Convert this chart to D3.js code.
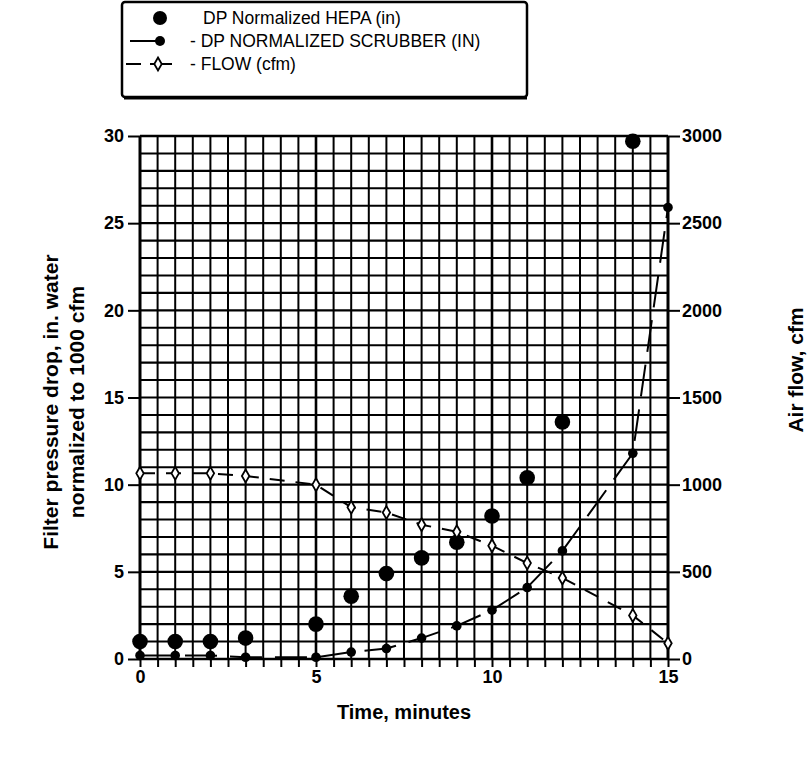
<!DOCTYPE html>
<html>
<head>
<meta charset="utf-8">
<script src="https://cdn.jsdelivr.net/npm/d3@7"></script>
<style>
  body { margin: 0; background: #fff; }
  svg { display: block; font-family: "Liberation Sans", Arial, Helvetica, sans-serif; }
</style>
</head>
<body>
<svg id="chart" width="810" height="759"></svg>
<script>
// Time, minutes
const hepaTime  = [0, 1, 2, 3, 5, 6, 7, 8, 9, 10, 11, 12, 14];
// Normalized HEPA pressure drop, in. water
const hepaDP    = [1.0, 1.0, 1.0, 1.2, 2.0, 3.6, 4.9, 5.8, 6.7, 8.2, 10.4, 13.6, 29.7];

const scrubTime = [0, 1, 2, 3, 5, 6, 7, 8, 9, 10, 11, 12, 14, 15];
// Normalized scrubber pressure drop, in. water
const scrubDP   = [0.2, 0.2, 0.2, 0.1, 0.1, 0.4, 0.6, 1.2, 1.9, 2.8, 4.1, 6.2, 11.8, 25.9];

const flowTime  = [0, 1, 2, 3, 5, 6, 7, 8, 9, 10, 11, 12, 14, 15];
// Air flow, cfm
const flowCfm   = [1065, 1065, 1065, 1050, 1000, 870, 840, 770, 730, 650, 550, 465, 250, 90];

const leftTicks   = [0, 5, 10, 15, 20, 25, 30];
const rightTicks  = [0, 500, 1000, 1500, 2000, 2500, 3000];
const bottomTicks = [0, 5, 10, 15];

const legendLabels = ["DP Normalized HEPA (in)", "- DP NORMALIZED SCRUBBER (IN)", "- FLOW (cfm)"];

const svg = d3.select("#chart");

const x  = d3.scaleLinear().domain([0, 15]).range([140, 668]);
const yL = d3.scaleLinear().domain([0, 30]).range([659, 136]);
const yR = d3.scaleLinear().domain([0, 3000]).range([659, 136]);

// ---- grid: one line per unit of pressure drop, one per half minute ----
const grid = svg.append("g").attr("stroke", "#000");
grid.selectAll("line.h").data(d3.range(0, 31, 1)).join("line")
  .attr("class", "h")
  .attr("x1", x(0)).attr("x2", x(15))
  .attr("y1", d => yL(d)).attr("y2", d => yL(d))
  .attr("stroke-width", d => d === 0 || d === 30 ? 2.6 : 2.1);
grid.selectAll("line.v").data(d3.range(0, 15.01, 0.5)).join("line")
  .attr("class", "v")
  .attr("x1", d => x(d)).attr("x2", d => x(d))
  .attr("y1", yL(0)).attr("y2", yL(30))
  .attr("stroke-width", d => (d === 0 || d === 15) ? 3 : (d % 5 === 0 ? 2.6 : 2));

// ---- axes ----
function styleAxis(g) {
  g.select(".domain").remove();
  g.selectAll(".tick line").attr("stroke", "#000").attr("stroke-width", 2);
  g.selectAll(".tick text")
    .attr("fill", "#000")
    .style("font-family", "'Liberation Sans', Arial, sans-serif")
    .style("font-weight", "bold")
    .style("font-size", "18px");
}

svg.append("g")
  .attr("transform", `translate(${x(0)},0)`)
  .call(d3.axisLeft(yL).tickValues(leftTicks).tickSize(12).tickPadding(4))
  .call(styleAxis);

svg.append("g")
  .attr("transform", `translate(${x(15)},0)`)
  .call(d3.axisRight(yR).tickValues(rightTicks).tickFormat(d3.format("d")).tickSize(12).tickPadding(2))
  .call(styleAxis);

svg.append("g")
  .attr("transform", `translate(0,${yL(0)})`)
  .call(d3.axisBottom(x)
    .tickValues(d3.range(0, 15.01, 0.5))
    .tickFormat(d => bottomTicks.includes(d) ? d3.format("d")(d) : "")
    .tickSize(8).tickPadding(3))
  .call(styleAxis);

// ---- axis titles ----
const titleStyle = (sel, size) => sel
  .attr("fill", "#000")
  .style("font-weight", "bold")
  .style("font-size", size)
  .attr("text-anchor", "middle");

svg.append("text").call(titleStyle, "21px")
  .attr("transform", "translate(58,402) rotate(-90)")
  .text("Filter pressure drop, in. water");
svg.append("text").call(titleStyle, "21px")
  .attr("transform", "translate(84,402) rotate(-90)")
  .text("normalized to 1000 cfm");
svg.append("text").call(titleStyle, "21px")
  .attr("transform", "translate(803,370) rotate(-90)")
  .text("Air flow, cfm");
svg.append("text").call(titleStyle, "20px")
  .attr("x", 404).attr("y", 719)
  .text("Time, minutes");

// ---- series ----
const scrubData = scrubTime.map((t, i) => [t, scrubDP[i]]);
const flowData  = flowTime.map((t, i) => [t, flowCfm[i]]);
const hepaData  = hepaTime.map((t, i) => [t, hepaDP[i]]);

svg.append("path")
  .datum(flowData)
  .attr("fill", "none").attr("stroke", "#000").attr("stroke-width", 2)
  .attr("stroke-dasharray", "15,11")
  .attr("d", d3.line().x(d => x(d[0])).y(d => yR(d[1])));

svg.append("path")
  .datum(scrubData)
  .attr("fill", "none").attr("stroke", "#000").attr("stroke-width", 2)
  .attr("stroke-dasharray", "32,13")
  .attr("d", d3.line().x(d => x(d[0])).y(d => yL(d[1])));

svg.append("g").selectAll("circle").data(hepaData).join("circle")
  .attr("cx", d => x(d[0])).attr("cy", d => yL(d[1]))
  .attr("r", 7.8).attr("fill", "#000");

svg.append("g").selectAll("circle").data(scrubData).join("circle")
  .attr("cx", d => x(d[0])).attr("cy", d => yL(d[1]))
  .attr("r", 4.8).attr("fill", "#000");

const diamond = d3.symbol().type(d3.symbolDiamond).size(48);
svg.append("g").selectAll("path").data(flowData).join("path")
  .attr("transform", d => `translate(${x(d[0])},${yR(d[1])})`)
  .attr("d", diamond)
  .attr("fill", "#fff").attr("stroke", "#000").attr("stroke-width", 1.8);

// ---- legend ----
const lg = svg.append("g");
lg.append("rect")
  .attr("x", 122).attr("y", 2).attr("width", 405).attr("height", 95).attr("rx", 3)
  .attr("fill", "#fff").attr("stroke", "#000").attr("stroke-width", 2.5);
lg.append("line")
  .attr("x1", 124).attr("x2", 527).attr("y1", 98).attr("y2", 98)
  .attr("stroke", "#000").attr("stroke-width", 3);

const rowY = [18, 41, 64];
lg.append("circle").attr("cx", 160).attr("cy", rowY[0]).attr("r", 7).attr("fill", "#000");
lg.append("line").attr("x1", 130).attr("x2", 158).attr("y1", rowY[1]).attr("y2", rowY[1])
  .attr("stroke", "#000").attr("stroke-width", 2);
lg.append("circle").attr("cx", 160).attr("cy", rowY[1]).attr("r", 5).attr("fill", "#000");
lg.append("line").attr("x1", 126).attr("x2", 141).attr("y1", rowY[2]).attr("y2", rowY[2])
  .attr("stroke", "#000").attr("stroke-width", 2);
lg.append("line").attr("x1", 150).attr("x2", 172).attr("y1", rowY[2]).attr("y2", rowY[2])
  .attr("stroke", "#000").attr("stroke-width", 2);
lg.append("path").attr("transform", `translate(158,${rowY[2]})`).attr("d", diamond)
  .attr("fill", "#fff").attr("stroke", "#000").attr("stroke-width", 1.8);

lg.selectAll("text").data(legendLabels).join("text")
  .attr("x", (d, i) => i === 0 ? 203 : 190)
  .attr("y", (d, i) => rowY[i] + 6)
  .attr("fill", "#000")
  .style("font-size", "17.5px")
  .text(d => d);
</script>
</body>
</html>
